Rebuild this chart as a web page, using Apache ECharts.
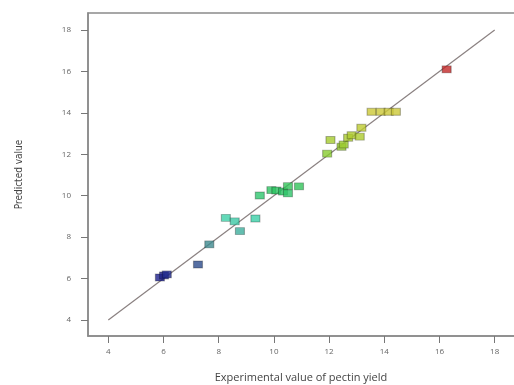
<!DOCTYPE html>
<html>
<head>
<meta charset="utf-8">
<script src="https://cdn.jsdelivr.net/npm/echarts@6/dist/echarts.min.js"></script>
<style>
  html, body { margin: 0; padding: 0; background: #fff; }
  #chart { width: 514px; height: 385px; }
</style>
</head>
<body>
<div id="chart"></div>
<script>
// experimental vs predicted pectin yield
const experimental = [5.87, 6.02, 6.12, 7.25, 7.66, 8.26, 8.58, 8.77, 9.33, 9.49,
  9.91, 10.09, 10.33, 10.51, 10.51, 10.91, 11.93, 12.05, 12.45, 12.53,
  12.69, 12.82, 13.11, 13.17, 13.54, 13.87, 14.16, 14.42, 16.26]
const predicted = [6.05, 6.15, 6.2, 6.68, 7.65, 8.93, 8.76, 8.29, 8.9, 10.01,
  10.27, 10.25, 10.2, 10.46, 10.11, 10.45, 12.03, 12.69, 12.36, 12.47,
  12.8, 12.92, 12.85, 13.28, 14.05, 14.05, 14.05, 14.05, 16.1]
const ticks = [4, 6, 8, 10, 12, 14, 16, 18]
const fitLine = [4, 18]

const chart = echarts.init(document.getElementById('chart'))

const points = experimental.map((x, i) => [x, predicted[i]])

const labelStyle = {
  fontSize: 8,
  color: '#666',
  fontFamily: 'Open Sans',
}

const option = {
  backgroundColor: '#fff',
  animation: false,
  // frame runs past the right edge of the picture, like the original
  grid: {
    left: 88,
    top: 13,
    width: 440,
    height: 323,
    outerBoundsMode: 'none',
    show: true,
    borderColor: '#8a8a8a',
    borderWidth: 1.5,
  },
  visualMap: {
    show: false,
    type: 'continuous',
    dimension: 1,
    seriesIndex: 0,
    min: 6,
    max: 16.1,
    inRange: {
      color: ['#1c1c8c', '#3e7f8a', '#3ccfa8', '#2cc25e', '#7ccb2e', '#bccb2e', '#d8c63e', '#c22828'],
    },
  },
  xAxis: {
    type: 'value',
    min: 3.265,
    max: 19.207,
    name: 'Experimental value of pectin yield',
    nameLocation: 'middle',
    nameGap: 36,
    nameTextStyle: { fontSize: 11, color: '#444', fontFamily: 'Open Sans', padding: [0, 14, 0, 0] },
    axisLine: { show: true, lineStyle: { color: '#8a8a8a', width: 1.5 } },
    axisTick: {
      show: true,
      length: 7,
      customValues: ticks,
      lineStyle: { color: '#777', width: 1 },
    },
    axisLabel: { ...labelStyle, margin: 12, customValues: ticks },
    splitLine: { show: false },
  },
  yAxis: {
    type: 'value',
    min: 3.227,
    max: 18.82,
    name: 'Predicted value',
    nameLocation: 'middle',
    nameGap: 64,
    nameTextStyle: {
      fontSize: 10,
      color: '#444',
      fontFamily: "'DejaVu Sans Condensed', 'Liberation Sans', sans-serif",
    },
    axisLine: { show: true, lineStyle: { color: '#8a8a8a', width: 1.5 } },
    axisTick: {
      show: true,
      length: 7,
      customValues: ticks,
      lineStyle: { color: '#777', width: 1 },
    },
    axisLabel: { ...labelStyle, margin: 17, customValues: ticks },
    splitLine: { show: false },
  },
  series: [
    {
      type: 'scatter',
      data: points,
      symbol: 'rect',
      symbolSize: [9, 7],
      z: 3,
      itemStyle: {
        borderColor: 'rgba(0,0,0,0.35)',
        borderWidth: 1,
      },
    },
    {
      type: 'line',
      data: fitLine.map((v) => [v, v]),
      symbol: 'none',
      z: 2,
      lineStyle: { color: '#8a8080', width: 1.2 },
    },
  ],
}

chart.setOption(option)
</script>
</body>
</html>
